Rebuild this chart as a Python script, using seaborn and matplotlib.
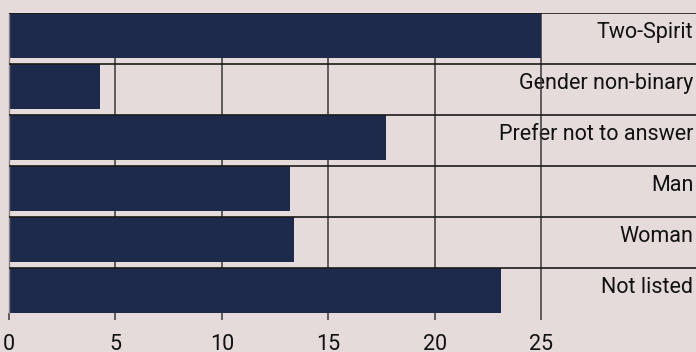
import matplotlib
matplotlib.use("Agg")
import matplotlib.pyplot as plt
import matplotlib.transforms as mtransforms
import seaborn as sns
import pandas as pd

categories = ["Two-Spirit", "Gender non-binary", "Prefer not to answer", "Man", "Woman", "Not listed"]
values = [25.0, 4.27, 17.7, 13.19, 13.38, 23.1]
x_ticks = [0, 5, 10, 15, 20, 25]

BG = "#e6dbdb"
BAR = "#1d2a4b"
BAR_H = 0.89

sns.set_theme(style="white")
plt.rcParams["font.family"] = ["Roboto", "DejaVu Sans"]

df = pd.DataFrame({"group": categories, "value": values})

fig = plt.figure(figsize=(6.96, 3.52), dpi=100, facecolor=BG)
ax = fig.add_axes([9 / 696, 1 - 313 / 352, 1 - 9 / 696, 300 / 352])
ax.set_facecolor(BG)

sns.barplot(data=df, y="group", x="value", order=categories, color=BAR,
            saturation=1, width=BAR_H, orient="h", ax=ax, zorder=2,
            linewidth=0, edgecolor=BAR)

n = len(categories)
ax.set_xlim(0, 32.27)
ax.set_ylim(n - 1 + BAR_H / 2, -BAR_H / 2)

# vertical gridlines behind the bars, above the labels
for t in x_ticks:
    ax.axvline(t, color="#3b3838", lw=1.1, zorder=1)
# row separators along the top of each bar
for i in range(n):
    ax.axhline(i - BAR_H / 2, color="#1a1a1a", lw=1.2, zorder=3)

# category names, right-aligned inside the plot
trans = mtransforms.blended_transform_factory(ax.transAxes, ax.transData)
for i, name in enumerate(categories):
    ax.text(0.996, i + 0.05, name, transform=trans, ha="right", va="baseline",
            fontsize=15.5, color="#111111", zorder=0.5)

ax.set_xticks(x_ticks)
ax.set_yticks([])
ax.set_xlabel("")
ax.set_ylabel("")
ax.tick_params(axis="x", direction="out", length=5, width=1.1, color="#3b3838",
               labelsize=15.5, labelcolor="#111111", pad=10, bottom=True)
for s in ["top", "right", "bottom"]:
    ax.spines[s].set_visible(False)
ax.spines["left"].set_color("#8a8080")
ax.spines["left"].set_linewidth(1)

fig.savefig("out.png", dpi=100, facecolor=BG)
